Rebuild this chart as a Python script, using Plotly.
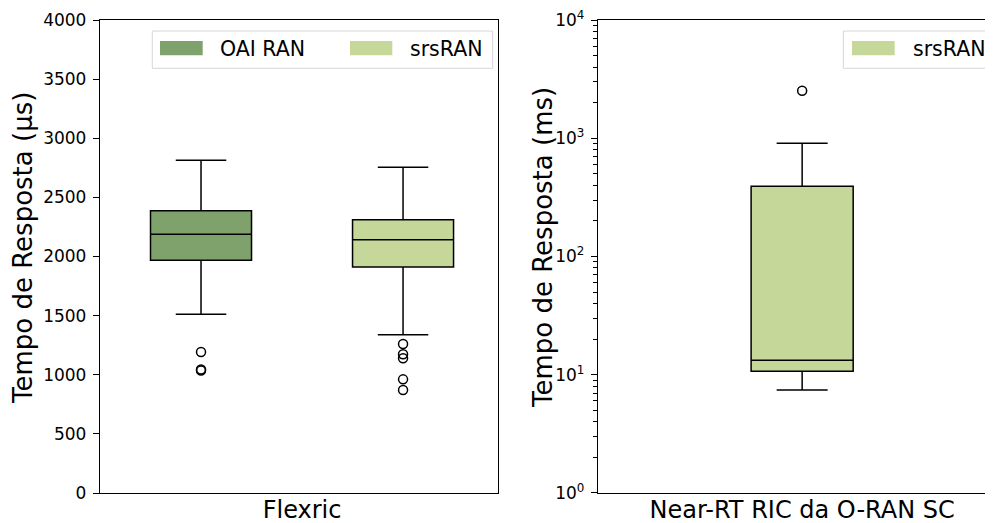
import plotly.graph_objects as go

# page is 993x523; the browser body has an 8px margin, so the figure is 985x515
OFF = 8
W, H = 993 - OFF, 523 - OFF

# ---- data ----
flex_positions = [1, 2]
flex_names = ["OAI RAN", "srsRAN"]
flex_lower = [1511, 1339]
flex_q1 = [1968, 1911]
flex_median = [2188, 2142]
flex_q3 = [2387, 2311]
flex_upper = [2813, 2754]
flex_outliers = [[1192, 1045, 1035], [1260, 1173, 1139, 961, 871]]

ric_positions = [1]
ric_names = ["srsRAN"]
ric_lower = [7.43]
ric_q1 = [10.7]
ric_median = [13.25]
ric_q3 = [392]
ric_upper = [906]
ric_outliers = [[2525]]

left_ticks = [0, 500, 1000, 1500, 2000, 2500, 3000, 3500, 4000]
log_ticks = [1, 10, 100, 1000, 10000]
log_ticktext = ["10<sup>0</sup>", "10<sup>1</sup>", "10<sup>2</sup>", "10<sup>3</sup>", "10<sup>4</sup>"]
log_minor = [m * d for d in [1, 10, 100, 1000] for m in range(2, 10)]

colors = {"OAI RAN": "#7fa26c", "srsRAN": "#c5d89a"}
FONT = "DejaVu Sans"

fig = go.Figure()

def add_boxes(positions, names, lo, q1, med, q3, up, outs, xa, ya):
    for i, n in enumerate(names):
        fig.add_trace(go.Box(
            x=[positions[i]], q1=[q1[i]], median=[med[i]], q3=[q3[i]],
            lowerfence=[lo[i]], upperfence=[up[i]],
            width=0.5, whiskerwidth=0.5, boxpoints=False,
            fillcolor=colors[n], line=dict(color="black", width=1.5),
            name=n, showlegend=False, xaxis=xa, yaxis=ya))
        fig.add_trace(go.Scatter(
            x=[positions[i]] * len(outs[i]), y=outs[i], mode="markers",
            marker=dict(symbol="circle-open", size=9, color="black",
                        line=dict(width=1.5, color="black")),
            showlegend=False, xaxis=xa, yaxis=ya))

add_boxes(flex_positions, flex_names, flex_lower, flex_q1, flex_median,
          flex_q3, flex_upper, flex_outliers, "x", "y")
add_boxes(ric_positions, ric_names, ric_lower, ric_q1, ric_median,
          ric_q3, ric_upper, ric_outliers, "x2", "y2")

def px(x):
    return (x - OFF) / W

def py(y):
    return 1 - (y - OFF) / H

shapes = []
annotations = []

def legend(frame, items):
    x0, y0, x1, y1 = frame
    shapes.append(dict(type="rect", xref="paper", yref="paper",
                       x0=px(x0), x1=px(x1), y0=py(y0), y1=py(y1),
                       line=dict(color="#d6d6d6", width=1), fillcolor="white",
                       layer="above"))
    for (pa, pb, tx, name) in items:
        shapes.append(dict(type="rect", xref="paper", yref="paper",
                           x0=px(pa), x1=px(pb), y0=py(41), y1=py(55.3),
                           line=dict(width=0), fillcolor=colors[name],
                           layer="above"))
        annotations.append(dict(xref="paper", yref="paper", x=px(tx), y=py(48.5),
                                text=name, showarrow=False, xanchor="left",
                                yanchor="middle", font=dict(size=20.5, color="black", family=FONT)))

legend((152.3, 31, 492.7, 68.3), [(160, 202.7, 218, "OAI RAN"), (350, 392.3, 408, "srsRAN")])
legend((843.3, 31, 986.7, 68.3), [(852, 894.7, 910.5, "srsRAN")])

# y-axis titles
for xc, txt in [(23, "Tempo de Resposta (µs)"), (543, "Tempo de Resposta (ms)")]:
    annotations.append(dict(xref="paper", yref="paper", x=px(xc), y=py(248),
                            text=txt, textangle=-90, showarrow=False,
                            xanchor="center", yanchor="middle",
                            font=dict(size=26, color="black", family=FONT)))

axis_common = dict(showline=True, linecolor="black", linewidth=1.3, mirror=True,
                   showgrid=False, zeroline=False, automargin=False)

fig.update_layout(
    width=W, height=H,
    margin=dict(l=0, r=0, t=0, b=0, autoexpand=False),
    paper_bgcolor="white", plot_bgcolor="white",
    font=dict(family=FONT, color="black"),
    showlegend=False,
    shapes=shapes, annotations=annotations,
    xaxis=dict(domain=[px(100), px(498)], range=[0.5, 2.47], anchor="y",
               tickmode="array", tickvals=[1.5], ticktext=["Flexric"], ticks="",
               tickfont=dict(size=24), ticklabelstandoff=-5, **axis_common),
    yaxis=dict(domain=[py(493), py(20)], range=[0, 4000], anchor="x",
               tickmode="array", tickvals=left_ticks, ticks="outside", ticklen=6,
               tickwidth=1.3, tickcolor="black", tickfont=dict(size=17),
               ticklabelstandoff=3, ticklabeloverflow="allow", **axis_common),
    xaxis2=dict(domain=[px(598), px(992)], range=[0.0, 1.93], anchor="y2",
                tickmode="array", tickvals=[1], ticktext=["Near-RT RIC da O-RAN SC"], ticks="",
                tickfont=dict(size=24), ticklabelstandoff=-5, **axis_common),
    yaxis2=dict(domain=[py(493), py(20)], type="log", range=[-0.0002, 4.0002], anchor="x2",
                tickmode="array", tickvals=log_ticks, ticktext=log_ticktext,
                ticks="outside", ticklen=6, tickwidth=1.3, tickcolor="black",
                tickfont=dict(size=17), ticklabelstandoff=3, ticklabeloverflow="allow",
                minor=dict(tickmode="array", tickvals=log_minor, ticks="outside",
                           ticklen=3.5, tickwidth=1, tickcolor="black", showgrid=False),
                **axis_common),
)

fig.write_html("out.html")
